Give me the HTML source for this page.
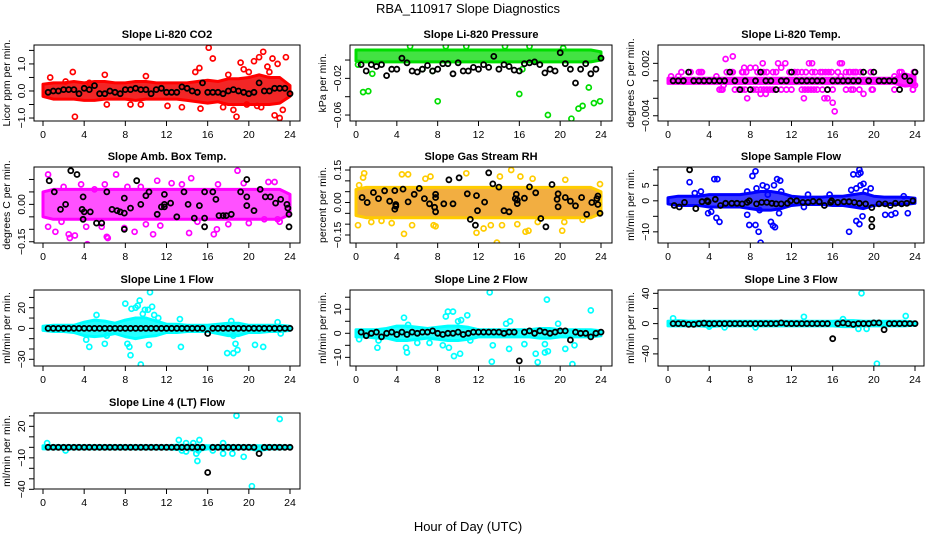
<!DOCTYPE html>
<html><head><meta charset="utf-8"><style>
body{margin:0;background:#fff}
svg text{font-family:"Liberation Sans",sans-serif}
</style></head><body>
<svg id="chart" width="936" height="540" viewBox="0 0 936 540" xmlns="http://www.w3.org/2000/svg">
<rect width="936" height="540" fill="#fff"/>
<text x="468" y="13" font-size="13" text-anchor="middle">RBA_110917  Slope Diagnostics</text>
<text x="468" y="531" font-size="13" text-anchor="middle">Hour of Day (UTC)</text>
</svg>
<script>
const xTickLabels = ["0","4","8","12","16","20","24"];
const xTickValues = [0,4,8,12,16,20,24];
const hourGrid = [0.5,1,1.5,2,2.5,3,3.5,4,4.5,5,5.5,6,6.5,7,7.5,8,8.5,9,9.5,10,10.5,11,11.5,12,12.5,13,13.5,14,14.5,15,15.5,16,16.5,17,17.5,18,18.5,19,19.5,20,20.5,21,21.5,22,22.5,23,23.5,24];
const bandHours = [0,1,2,3,4,5,6,7,8,9,10,11,12,13,14,15,16,17,18,19,20,21,22,23,24];

// CO2
const co2BandHi = [0.25,0.3,0.3,0.35,0.3,0.35,0.35,0.3,0.3,0.35,0.35,0.3,0.3,0.3,0.3,0.35,0.4,0.35,0.45,0.45,0.5,0.6,0.5,0.5,0.2];
const co2BandLo = [-0.2,-0.3,-0.3,-0.3,-0.35,-0.35,-0.3,-0.3,-0.3,-0.35,-0.3,-0.3,-0.3,-0.3,-0.35,-0.4,-0.45,-0.4,-0.5,-0.5,-0.5,-0.5,-0.5,-0.45,-0.2];
const co2Points = [[0.7,0.5],[2.9,0.7],[3.1,-0.95],[6,0.6],[8.5,-0.5],[9.5,-0.5],[10,0.55],[13.5,-0.6],[14.8,0.7],[15.2,0.85],[15.3,-0.65],[16.1,1.6],[16.5,1.2],[18.5,-0.7],[18.8,-0.95],[19.2,1.05],[19.5,0.8],[20.5,1.1],[21,1.25],[21.4,1.45],[21.8,0.9],[22.3,1.2],[22.5,-0.9],[22.8,1.0],[23,-1.0],[23.3,-0.7],[23.6,1.25],[20,0.7],[17.5,-0.6],[22,0.7],[19.8,-0.5],[21.2,-0.6],[2.2,0.35],[4.5,0.3],[6.2,-0.5],[12.1,-0.55],[18,0.6],[20.8,-0.55]];
const co2Black = [-0.05,0,0,0.05,0.05,0.05,-0.1,0.1,0.05,0.2,-0.1,-0.1,0,-0.05,-0.1,0.05,0.05,0.1,0.05,0.05,-0.1,0.05,0.1,-0.05,-0.05,-0.05,0.15,0.1,0,-0.05,0.3,-0.05,-0.05,-0.05,-0.1,0,0.05,0,-0.05,-0.1,-0.05,0.3,0,0,0.1,0.1,0.1,-0.1];

// Pressure
const presBandHi = [0.011,0.011,0.011,0.011,0.011,0.011,0.011,0.011,0.011,0.011,0.011,0.011,0.011,0.011,0.011,0.011,0.011,0.011,0.011,0.011,0.011,0.011,0.011,0.011,0.009];
const presBandLo = [-0.001,-0.002,-0.002,-0.002,-0.002,-0.002,-0.002,-0.002,-0.002,-0.002,-0.002,-0.002,-0.002,-0.002,-0.002,-0.002,-0.002,-0.002,-0.002,-0.002,-0.002,-0.002,-0.002,-0.002,0];
const presPoints = [[0.7,-0.035],[1.2,-0.034],[1.6,-0.015],[8,-0.045],[16,-0.037],[18.8,-0.06],[21.1,-0.064],[21.8,-0.053],[22.2,-0.05],[22.8,-0.03],[23.3,-0.047],[23.9,-0.045],[5.3,0.015],[8.8,0.015],[10.8,0.015],[14.6,0.015],[17,0.015],[0.2,-0.005],[6.5,-0.01],[7.5,-0.012],[16.3,-0.01],[20.3,0.013]];
const presBlack = [-0.005,-0.012,-0.005,-0.007,-0.005,-0.017,-0.01,-0.01,0.002,-0.003,-0.012,-0.013,-0.01,-0.006,-0.012,-0.01,-0.004,-0.004,-0.015,-0.003,-0.012,-0.012,-0.008,-0.01,-0.005,-0.008,0.004,-0.01,-0.005,-0.007,-0.011,-0.012,-0.004,-0.003,-0.002,-0.005,-0.014,-0.01,-0.012,0.008,-0.004,-0.01,-0.025,-0.01,-0.004,-0.015,-0.01,0.002];

// Li-820 temp
const tempBandHi = [0.0003,0.0003,0.0003,0.0003,0.0003,0.0003,0.0003,0.0003,0.0003,0.0003,0.0003,0.0003,0.0003,0.0003,0.0003,0.0003,0.0003,0.0003,0.0003,0.0003,0.0003,0.0003,0.0003,0.0008,0.0005];
const tempBandLo = [-0.0003,-0.0003,-0.0003,-0.0003,-0.0003,-0.0003,-0.0003,-0.0003,-0.0003,-0.0003,-0.0003,-0.0003,-0.0003,-0.0003,-0.0003,-0.0003,-0.0003,-0.0003,-0.0003,-0.0003,-0.0003,-0.0003,-0.0003,-0.0006,-0.0005];
const tempPoints = [[0.3,0.0005],[1,0.0005],[1.3,0.001],[3.2,0.001],[4.7,0.0005],[5.2,-0.001],[5.4,-0.0005],[5.6,0.0025],[6.2,0.001],[6.3,0.0028],[7.2,0.001],[7.4,0.0015],[7.7,-0.002],[8,0.0015],[8.5,0.0015],[9,-0.0015],[9.2,0.002],[9.5,-0.0015],[10.5,0.001],[10.7,0.002],[11,0.0015],[11.4,0.002],[12.3,0.001],[13.2,-0.002],[13.7,0.002],[14,0.002],[14.3,0.001],[15.2,-0.002],[15.5,-0.002],[16,-0.0025],[16.2,-0.0035],[16.7,0.002],[16.9,0.002],[16.8,0.0005],[17.7,0.001],[18,-0.001],[18.2,0.001],[19,-0.0015],[19.9,-0.001],[22,0.0005],[22.5,0.001],[23.8,-0.001],[24,-0.0005]];
const tempNegHours = [5,5.3,6.5,6.9,7.2,7.5,8,8.3,8.6,9,9.3,9.6,9.9,10.2,10.5,11,11.5,12,13,13.3,13.6,13.9,14.2,14.5,15,15.5,16,17.3,17.8,18.6,19.8,22,23.8];
const tempPosHours = [2.2,3,3.3,5.7,6.3,7.3,7.6,8.7,9,9.3,9.6,10.2,11.8,12.3,12.6,13,13.4,14,14.8,15,15.3,15.6,15.9,16.5,17.3,17.6,18,18.3,18.7,19.7,22.7,23.9];
const tempBlack = [0,0,0,0.001,0,0,0,0,0,0,0,0.001,0,-0.001,0,-0.001,0,0.001,0,0,-0.001,0,0,0.001,0,0,0,0,0,0,-0.001,0,0,0,0,0,0,0.001,0,0.001,0,0,0,0,-0.001,0.0005,0,0.001];

// Amb box temp
const ambBandHi = [0.05,0.06,0.06,0.06,0.06,0.06,0.06,0.06,0.06,0.06,0.06,0.06,0.06,0.06,0.06,0.06,0.06,0.06,0.06,0.06,0.06,0.06,0.06,0.06,0.04];
const ambBandLo = [-0.05,-0.06,-0.06,-0.06,-0.06,-0.06,-0.06,-0.06,-0.06,-0.06,-0.06,-0.06,-0.06,-0.06,-0.06,-0.06,-0.06,-0.06,-0.06,-0.06,-0.06,-0.06,-0.06,-0.06,-0.04];
const ambPoints = [[0.5,0.12],[0.5,-0.09],[1.2,-0.11],[2.5,-0.12],[2.6,-0.135],[3.1,-0.125],[4.3,-0.16],[4.2,-0.09],[5.7,-0.09],[6.2,-0.13],[6.3,-0.135],[7.1,0.12],[7.9,-0.095],[8.9,-0.11],[10.7,-0.12],[11.4,-0.085],[11.1,0.095],[14.4,0.105],[14.2,-0.115],[16.6,-0.12],[16.9,-0.1],[18.9,0.135],[20,-0.075],[21.5,-0.06],[22.5,0.09],[23,-0.07],[10,-0.08],[6,0.08],[3.7,0.08],[13.5,0.08],[17,0.08],[19.5,0.085],[21.9,0.09],[2,0.07],[12.5,0.085],[8.2,0.07],[5,0.06],[15,-0.07],[18,-0.08],[9.5,0.07],[1.8,-0.07],[22.8,-0.06]];
const ambBlack = [[0.6,0.095],[1.1,0.05],[1.7,-0.02],[2.2,0],[2.7,0.135],[3.3,0.12],[3.8,-0.02],[3.9,-0.06],[3.9,0.03],[4,-0.03],[4.6,-0.03],[5.2,-0.075],[5.7,-0.075],[6.2,0.05],[6.7,-0.02],[7.2,-0.025],[7.5,-0.03],[7.9,-0.1],[7.9,-0.035],[7.9,0.025],[8.5,-0.015],[9.1,0.095],[9.5,0],[10,0.035],[10.3,0.05],[11.1,-0.04],[11.5,-0.01],[11.8,0.04],[11.8,0],[11.8,-0.01],[12.4,0.005],[13,-0.05],[13.7,0.05],[14.1,0],[14.7,-0.055],[15.2,-0.005],[15.7,-0.055],[15.7,-0.09],[15.7,0.05],[16.5,0.05],[16.8,0.02],[17.1,-0.045],[17.5,-0.045],[17.8,-0.045],[18.3,-0.04],[19.2,0.05],[19.8,0.1],[19.8,0.03],[19.8,-0.005],[20.5,-0.025],[21.1,0.06],[21.6,0.03],[22.1,0.03],[22.6,0.005],[23.1,0.02],[23.7,0],[23.8,-0.015],[23.9,-0.04],[23.9,-0.09]];

// Gas stream RH
const rhBandHi = [0.06,0.07,0.07,0.07,0.07,0.07,0.07,0.07,0.07,0.07,0.07,0.07,0.07,0.07,0.07,0.07,0.07,0.07,0.07,0.07,0.07,0.07,0.07,0.07,0.05];
const rhBandLo = [-0.06,-0.07,-0.07,-0.07,-0.07,-0.07,-0.07,-0.07,-0.07,-0.07,-0.07,-0.07,-0.07,-0.07,-0.07,-0.07,-0.07,-0.07,-0.07,-0.07,-0.07,-0.07,-0.07,-0.07,-0.05];
const rhPoints = [[0.2,-0.105],[0.8,0.135],[0.7,0.115],[1.5,-0.09],[2.5,-0.085],[3.5,-0.095],[4.7,-0.145],[5.1,0.13],[4.5,0.13],[5.5,-0.105],[6.8,0.11],[7.3,0.12],[7.6,-0.105],[7.8,-0.11],[10.8,0.135],[11.8,-0.14],[12.5,-0.12],[13.2,-0.105],[13.8,-0.185],[14.3,-0.105],[14.1,0.12],[15.2,0.15],[15.8,-0.1],[16.1,0.12],[16.6,-0.135],[16.9,-0.13],[17.3,0.11],[20.2,-0.13],[20.5,0.105],[20.4,-0.09],[23.9,0.085],[0.3,0.08],[17.8,-0.09],[22.2,-0.08]];
const rhBlack = [[0.6,0.023],[1.1,0],[1.7,0.046],[2.2,0.018],[2.8,0.054],[3.3,0.006],[3.8,0.055],[3.8,-0.031],[3.9,-0.009],[3.9,-0.017],[4.6,0.062],[5.1,0.003],[5.7,0.038],[6.2,0.065],[6.7,0.018],[7.2,-0.006],[7.7,-0.022],[7.8,0.038],[7.8,0.023],[7.8,-0.043],[8.6,-0.006],[9.1,0.105],[9.5,-0.006],[10.1,0.114],[10.9,0.04],[11.2,-0.078],[11.7,-0.105],[11.8,0.032],[11.9,-0.038],[12.6,0.002],[13,0.137],[13.4,0.086],[14,0.071],[14.5,-0.038],[15,-0.043],[15.6,0.018],[15.7,0.038],[15.8,-0.005],[15.8,0.011],[16.5,0.02],[17,0.072],[17.6,0.045],[18.1,-0.074],[18.6,-0.112],[19.2,0.083],[19.7,0.015],[19.8,0.04],[19.8,-0.02],[20.5,0.023],[21,0.006],[21.5,-0.015],[22.1,0.023],[22.6,-0.055],[23.1,0],[23.6,0.018],[23.7,-0.009],[23.7,0.03],[23.9,-0.05]];

// Sample flow
const sfBandHi = [1,1.5,1.5,1.5,2,2,2,2,2.5,3,3,2.5,1.5,1.2,1.2,1.2,1.5,1.5,2,2.5,1.5,1.2,1.2,1.2,0.8];
const sfBandLo = [-1,-1.5,-1.5,-1.5,-2,-2,-2,-2,-2.5,-3,-3,-2.5,-1.5,-1.2,-1.2,-1.2,-1.5,-1.5,-2,-2.5,-1.5,-1.2,-1.2,-1.2,-0.8];
const sfPoints = [[2.1,6],[2.6,2.5],[3.2,3],[3.9,-4],[4.2,-3.5],[4.5,7],[4.8,7],[4.7,-5.5],[5,-6.8],[7.7,3],[7.7,-4.5],[7.9,-7.8],[8.2,8],[8.5,9.5],[8.5,-7.8],[8.6,4],[8.8,-10],[8.9,-3],[9,-13.5],[9.2,5],[9.6,4.5],[9.7,2],[10,-6.8],[10.2,-8],[10.4,-8.5],[10.3,5],[10.6,7],[10.9,6.5],[10.8,-4],[11,3],[13.2,-2],[13.6,2],[15.7,2],[17.6,-10],[17.8,3.5],[18,8.5],[18.3,4],[18.5,8.5],[18.6,10],[18.7,9],[18.7,5],[18.3,-6.5],[18.6,-7.5],[18.9,-5],[19,5.5],[19.2,3],[19.7,4],[21.1,-4.5],[21.7,-4.5],[22.1,-4],[23.3,-4],[22.9,1.5]];
const sfBlack = [[0.6,-1.5],[1.1,-2],[1.6,-0.5],[2.1,10],[2.7,-2.5],[3.3,-0.3],[3.8,0],[3.9,-0.3],[4.6,0.5],[5.1,-1.5],[5.6,-0.8],[6.2,-0.8],[6.7,-0.8],[7.2,-1],[7.7,-0.5],[7.9,0],[8.6,-1],[9.1,-0.5],[9.6,-0.5],[10.1,-0.8],[10.5,-1],[11,-1],[11.6,-0.8],[11.9,0],[12.5,0],[13.1,-0.5],[13.6,-0.5],[14.1,-0.2],[14.7,-0.3],[15.2,-1.5],[15.8,-0.5],[15.9,0],[16.5,-0.5],[17.1,-0.3],[17.6,-0.3],[18.1,-0.5],[18.6,-0.8],[19.2,-1],[19.8,-2.2],[19.8,-6],[19.8,-8.3],[20.5,-1],[21.1,-1],[21.6,-1.5],[22.1,-0.8],[22.7,-1],[23.2,-0.8],[23.8,0]];

// Line 1
const l1BandHi = [2,3,3,3,6,8,7,5,8,10,10,7,4,4,3,3,3,4,5,5,3,3,3,3,2];
const l1BandLo = [-2,-3,-3,-4,-7,-8,-7,-5,-8,-10,-8,-7,-4,-4,-3,-3,-3,-5,-7,-7,-4,-4,-3,-3,-2];
const l1Points = [[4.2,-11],[4.5,-18],[5.2,13],[6,-15],[6.2,-7],[8,24],[8.2,-15],[8.4,-18],[8.5,-26],[8.6,19],[9,20],[9.2,22],[9.4,27],[9.5,-35],[9.7,14],[9.9,18],[10.2,18],[10.3,-16],[10.4,35],[10.6,21],[10.8,13],[11.2,10],[13.3,9],[13.4,-18],[17.9,-24],[18.3,7],[18.5,-24],[18.7,-15],[18.9,-21],[18.5,-7],[20.6,-16],[21.4,-18],[22.8,6],[23.1,-5]];
const l1Black = [0,0,0,0,0,0,0,0,0,0,0,0,0,0,0,0,0,0,0,0,0,0,0,0,0,0,0,0,0,0,0,-5,0,0,0,0,0,0,0,0,0,0,0,0,0,0,0,0];

// Line 2
const l2BandHi = [1.5,1.5,1.5,2,3,3,2.5,2,2.5,3,3,2.5,1.5,1.5,1.5,1.5,1.5,1.5,2,2,1.5,1.5,1.5,1.5,1];
const l2BandLo = [-1.5,-1.5,-2,-2,-3,-3,-2.5,-2,-2.5,-3,-3,-2.5,-1.5,-1.5,-1.5,-1.5,-1.5,-1.5,-2,-2,-1.5,-1.5,-1.5,-1.5,-1];
const l2Points = [[0.3,-2.5],[2.1,-6],[2.2,-3],[4.7,6.5],[5,-8],[5.1,3.5],[4.9,-6],[6,-4],[7.2,-4],[8.5,-5],[8.8,7],[9,9],[9.5,9],[9.1,-6],[9.6,-9.5],[10,5],[10.3,5.5],[10.2,-8.5],[10.9,7.5],[11.2,-3],[13.1,17],[13.4,-5],[13.3,-11.8],[14.7,4],[15.1,5],[15,-6.5],[16.5,-4.5],[17.6,-8.5],[17.8,-12],[18.5,-8],[18.5,-4.5],[18.7,14],[18.8,-7.5],[19.8,4],[20.5,-6.5],[21.2,-12.8],[21.4,-5],[23,9.5]];
const l2Black = [0.5,-1,0,0.5,-1.5,0,0.5,-0.5,0.5,-0.5,0.5,0,0.5,0.5,1,0,-0.5,0,0,0.5,-0.5,0,0.5,0.5,0.5,0.5,0.5,0.5,0,0.5,0.5,-11.5,0.5,1,0,1,0.5,0,0.5,1,1,-2.8,0.5,0,0,-1.5,0,0.5];

// Line 3
const l3BandHi = [3,4,3,3,3,3,3,3,3,3,3,3,3,3,3,3,3,4,4,3,3,3,3,3,2];
const l3BandLo = [-3,-3,-3,-3,-4,-3,-3,-3,-3,-3,-3,-3,-3,-3,-3,-3,-3,-4,-4,-3,-3,-3,-3,-3,-2];
const l3Points = [[0.5,7],[18.8,40],[20.3,-53],[13.2,9],[23.1,10],[17,6],[18.5,-7],[19.3,-7],[8.5,-5],[4,-4],[5.5,-5]];
const l3Black = [0,0,0,-1,-1,0,0.5,0,0,0,0,0,0,0,0,0,0,0,0,0,0,1,0,0,0,0,0,0,0,0,0,-20,0,1,0,-1,0,0,0,1,1,-8,0,0,0,0,0,0];

// Line 4
const l4BandHi = [1.5,1.5,1.5,1.5,1.5,1.5,1.5,1.5,1.5,1.5,1.5,1.5,1.5,2,2,2,1.5,1.5,1.5,1.5,1.5,1.5,1.5,1.5,1];
const l4BandLo = [-1.5,-1.5,-1.5,-1.5,-1.5,-1.5,-1.5,-1.5,-1.5,-1.5,-1.5,-1.5,-1.5,-2,-2,-3,-1.5,-1.5,-1.5,-1.5,-1.5,-3,-1.5,-1.5,-1];
const l4Points = [[0.4,4],[2.2,-3],[13.2,7],[13.5,-3],[13.9,4],[13.9,-4],[14.9,-6],[15,-13],[15.2,7],[15.1,-3],[17.5,4],[17.5,-6],[18.4,-6],[18.8,30],[19.5,-9],[20.3,-37],[23,27],[16.5,-3],[14.6,4]];
const l4Black = [0,0,0,0,0,0,0,0,0,0,0,0,0,0,0,0,0,0,0,0,0,0,0,0,0,0,0,0,0,0,0,-24,0,0,0,0,0,0,0,0,0,-6,0,0,0,0,0,0];

const NS = "http://www.w3.org/2000/svg";
const svg = document.getElementById('chart');
function mk(tag, attrs, parent){const e=document.createElementNS(NS,tag);for(const k in attrs)e.setAttribute(k,attrs[k]);(parent||svg).appendChild(e);return e;}
function gridPairs(vals){return vals.map((v,i)=>[hourGrid[i],v]);}
function hoursAt(hours,v){return hours.map(h=>[h,v]);}

const cols=[{l:34,r:300,x0:43,x24:290},{l:350,r:612,x0:356,x24:601},{l:658,r:924,x0:668,x24:915}];
const rows=[{t:45,b:121},{t:167,b:243},{t:290,b:366},{t:413,b:489}];

const panels=[
 {name:'co2',title:'Slope Li-820 CO2',ylab:'Licor ppm per min.',c:0,r:0,yTop:1.7,yBot:-1.11,ticks:[-1,-0.5,0,0.5,1,1.5],labels:[[-1,'-1.0'],[0,'0.0'],[1,'1.0']],color:'#ff0000',band:'#f00000',hi:co2BandHi,lo:co2BandLo,pts:[co2Points],black:gridPairs(co2Black)},
 {name:'pressure',title:'Slope Li-820 Pressure',ylab:'kPa per min.',c:1,r:0,yTop:0.0164,yBot:-0.0665,ticks:[-0.06,-0.04,-0.02,0],labels:[[-0.06,'-0.06'],[-0.02,'-0.02']],color:'#00dd00',band:'#22dd22',hi:presBandHi,lo:presBandLo,pts:[presPoints],black:gridPairs(presBlack)},
 {name:'li820-temp',title:'Slope Li-820 Temp.',ylab:'degrees C per min.',c:2,r:0,yTop:0.0041,yBot:-0.0046,ticks:[-0.004,-0.002,0,0.002],labels:[[-0.004,'-0.004'],[0.002,'0.002']],color:'#ff00ff',band:'#ff00ff',hi:tempBandHi,lo:tempBandLo,pts:[tempPoints,hoursAt(tempNegHours,-0.001),hoursAt(tempPosHours,0.001)],black:gridPairs(tempBlack)},
 {name:'amb-box-temp',title:'Slope Amb. Box Temp.',ylab:'degrees C per min.',c:0,r:1,yTop:0.15,yBot:-0.155,ticks:[-0.15,-0.1,-0.05,0,0.05,0.1],labels:[[-0.15,'-0.15'],[0,'0.00']],color:'#ff00ff',band:'#ff33ff',hi:ambBandHi,lo:ambBandLo,pts:[ambPoints],black:ambBlack},
 {name:'gas-stream-rh',title:'Slope Gas Stream RH',ylab:'percent per min.',c:1,r:1,yTop:0.164,yBot:-0.187,ticks:[-0.15,-0.1,-0.05,0,0.05,0.1,0.15],labels:[[-0.15,'-0.15'],[0,'0.00'],[0.15,'0.15']],color:'#ffcc00',band:'#f0a020',hi:rhBandHi,lo:rhBandLo,pts:[rhPoints],black:rhBlack},
 {name:'sample-flow',title:'Slope Sample Flow',ylab:'ml/min per min.',c:2,r:1,yTop:10.9,yBot:-13.6,ticks:[-10,-5,0,5,10],labels:[[-10,'-10'],[0,'0'],[5,'5']],color:'#0000ff',band:'#1a1aff',hi:sfBandHi,lo:sfBandLo,pts:[sfPoints],black:sfBlack},
 {name:'line1-flow',title:'Slope Line 1 Flow',ylab:'ml/min per min.',c:0,r:2,yTop:37.2,yBot:-36.5,ticks:[-30,-20,-10,0,10,20,30],labels:[[-30,'-30'],[0,'0'],[20,'20']],color:'#00ffff',band:'#00ffff',hi:l1BandHi,lo:l1BandLo,pts:[l1Points],black:gridPairs(l1Black)},
 {name:'line2-flow',title:'Slope Line 2 Flow',ylab:'ml/min per min.',c:1,r:2,yTop:18,yBot:-13.6,ticks:[-10,-5,0,5,10,15],labels:[[-10,'-10'],[0,'0'],[10,'10']],color:'#00ffff',band:'#00ffff',hi:l2BandHi,lo:l2BandLo,pts:[l2Points],black:gridPairs(l2Black)},
 {name:'line3-flow',title:'Slope Line 3 Flow',ylab:'ml/min per min.',c:2,r:2,yTop:44.4,yBot:-56,ticks:[-40,-20,0,20,40],labels:[[-40,'-40'],[0,'0'],[40,'40']],color:'#00ffff',band:'#00ffff',hi:l3BandHi,lo:l3BandLo,pts:[l3Points],black:gridPairs(l3Black)},
 {name:'line4-flow',title:'Slope Line 4 (LT) Flow',ylab:'ml/min per min.',c:0,r:3,yTop:32.7,yBot:-39.7,ticks:[-40,-30,-20,-10,0,10,20,30],labels:[[-40,'-40'],[-10,'-10'],[20,'20']],color:'#00ffff',band:'#00ffff',hi:l4BandHi,lo:l4BandLo,pts:[l4Points],black:gridPairs(l4Black)}
];

panels.forEach(p=>{
 const C=cols[p.c],R=rows[p.r];
 const g=mk('g',{});
 
 
 const X=h=>C.x0+h*(C.x24-C.x0)/24;
 const Y=v=>R.t+(p.yTop-v)/(p.yTop-p.yBot)*(R.b-R.t);
 const clip='clip-'+p.name;
 const cp=mk('clipPath',{id:clip},g);mk('rect',{x:C.l,y:R.t,width:C.r-C.l,height:R.b-R.t},cp);
 const pg=mk('g',{'clip-path':'url(#'+clip+')'},g);
 let d='';
 bandHours.forEach((h,i)=>{d+=(i?'L':'M')+X(h).toFixed(1)+','+Y(p.hi[i]).toFixed(1);});
 for(let i=bandHours.length-1;i>=0;i--)d+='L'+X(bandHours[i]).toFixed(1)+','+Y(p.lo[i]).toFixed(1);
 const band=mk('path',{d:d+'Z',fill:p.band,'fill-opacity':0.85,stroke:p.color,'stroke-width':3,'stroke-linejoin':'round'},pg);
 
 
 p.pts.forEach(arr=>arr.forEach(pt=>{
  const c=mk('circle',{cx:X(pt[0]).toFixed(1),cy:Y(pt[1]).toFixed(1),r:2.5,fill:'none',stroke:p.color,'stroke-width':1.7},pg);
  
  
 }));
 p.black.forEach(pt=>{
  const c=mk('circle',{cx:X(pt[0]).toFixed(1),cy:Y(pt[1]).toFixed(1),r:2.5,fill:'none',stroke:'#000','stroke-width':1.8},pg);
  
  
 });
 const box=mk('rect',{x:C.l,y:R.t,width:C.r-C.l,height:R.b-R.t,fill:'none',stroke:'#000','stroke-width':1},g);
 
 
 mk('line',{x1:X(0),x2:X(24),y1:R.b,y2:R.b,stroke:'#000'},g);
 xTickValues.forEach((v,i)=>{
  mk('line',{x1:X(v),x2:X(v),y1:R.b,y2:R.b+5,stroke:'#000'},g);
  const t=mk('text',{x:X(v),y:R.b+17,'font-size':10.5,'text-anchor':'middle'},g);t.textContent=xTickLabels[i];
  
  
 });
 mk('line',{x1:C.l,x2:C.l,y1:Y(p.ticks[0]),y2:Y(p.ticks[p.ticks.length-1]),stroke:'#000'},g);
 p.ticks.forEach(v=>mk('line',{x1:C.l-5,x2:C.l,y1:Y(v),y2:Y(v),stroke:'#000'},g));
 p.labels.forEach(l=>{
  const x=C.l-9,y=Y(l[0]);
  const t=mk('text',{x:x,y:y,'font-size':10.5,'text-anchor':'middle',transform:'rotate(-90 '+x+' '+y+')'},g);
  t.textContent=l[1].replace('-','\u2212');
  
  
 });
 const yx=C.l-24,yy=(R.t+R.b)/2;
 const yl=mk('text',{x:yx,y:yy,'font-size':10.5,'text-anchor':'middle',transform:'rotate(-90 '+yx+' '+yy+')'},g);
 yl.textContent=p.ylab;
 
 
 const tt=mk('text',{x:(C.l+C.r)/2,y:R.t-7,'font-size':11,'font-weight':'bold','text-anchor':'middle'},g);
 tt.textContent=p.title;
 
 
});
</script>
</body></html>
